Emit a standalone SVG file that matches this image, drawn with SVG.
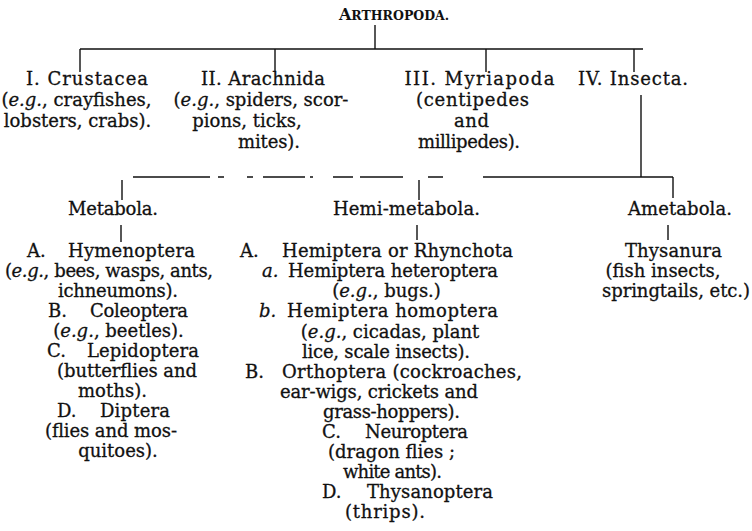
<svg xmlns="http://www.w3.org/2000/svg" width="752" height="531" viewBox="0 0 752 531">
<style>
text{font-family:"DejaVu Serif","Liberation Serif",serif;font-size:18px;fill:#111;stroke:#111;stroke-width:0.3;}
.c{text-anchor:middle;}
.i{font-style:italic;}
.t{font-weight:bold;stroke-width:0;}
.ln{stroke:#111;stroke-width:1.4;fill:none;}
</style>
<rect width="752" height="531" fill="#fff"/>
<g id="connectors">
<path class="ln" d="M375 25V49M80 49H643M80 49V72M275 49V72M486 49V72M634 49V72"/>
<path class="ln" d="M641 95V177"/>
<path class="ln" d="M133 177H210M218 177H224M247 177H253M263 177H305M310 177H313M333 177H353M360 177H403M428 177H443M483 177H673M673 177V198"/>
<path class="ln" d="M122 180V200M419 180V200"/>
<path class="ln" d="M121 225V242M417 225V240M668 225V240"/>
</g>
<g id="arthropoda"><text class="c t" x="394" y="20"><tspan font-size="16">A</tspan><tspan font-size="12.5">RTHROPODA.</tspan></text></g>
<g id="crustacea">
<text class="c" x="87" y="85" textLength="122" lengthAdjust="spacing">I. Crustacea</text>
<text class="c" x="76.5" y="106">(<tspan class="i">e.g.</tspan>, crayfishes,</text>
<text class="c" x="77.5" y="127">lobsters, crabs).</text>
</g>
<g id="arachnida">
<text class="c" x="263" y="85" textLength="124" lengthAdjust="spacing">II. Arachnida</text>
<text class="c" x="261" y="106">(<tspan class="i">e.g.</tspan>, spiders, scor-</text>
<text class="c" x="247" y="127">pions, ticks,</text>
<text class="c" x="269" y="148" textLength="62" lengthAdjust="spacing">mites).</text>
</g>
<g id="myriapoda">
<text class="c" x="479.5" y="85" textLength="150" lengthAdjust="spacing">III. Myriapoda</text>
<text class="c" x="472.5" y="106" textLength="113" lengthAdjust="spacing">(centipedes</text>
<text class="c" x="471.5" y="127" textLength="35" lengthAdjust="spacing">and</text>
<text class="c" x="469" y="148" textLength="102" lengthAdjust="spacing">millipedes).</text>
</g>
<g id="insecta">
<text class="c" x="633" y="85" textLength="110" lengthAdjust="spacing">IV. Insecta.</text>
</g>
<g id="metabola">
<text class="c" x="113" y="215" textLength="90" lengthAdjust="spacing">Metabola.</text>
<text x="27" y="257">A.</text><text class="c" x="131.5" y="257" textLength="127" lengthAdjust="spacing">Hymenoptera</text>
<text class="c" x="109" y="277" textLength="208" lengthAdjust="spacing">(<tspan class="i">e.g.</tspan>, bees, wasps, ants,</text>
<text class="c" x="118" y="297" textLength="120" lengthAdjust="spacing">ichneumons).</text>
<text x="48" y="317">B.</text><text class="c" x="139" y="317" textLength="98" lengthAdjust="spacing">Coleoptera</text>
<text class="c" x="118.5" y="337">(<tspan class="i">e.g.</tspan>, beetles).</text>
<text x="47" y="357">C.</text><text class="c" x="143" y="357" textLength="112" lengthAdjust="spacing">Lepidoptera</text>
<text class="c" x="127" y="377" textLength="140" lengthAdjust="spacing">(butterflies and</text>
<text class="c" x="112.5" y="397" textLength="69" lengthAdjust="spacing">moths).</text>
<text x="57" y="417">D.</text><text class="c" x="135" y="417" textLength="70" lengthAdjust="spacing">Diptera</text>
<text class="c" x="111" y="437" textLength="132" lengthAdjust="spacing">(flies and mos-</text>
<text class="c" x="118" y="457">quitoes).</text>
</g>
<g id="hemimetabola">
<text class="c" x="406.5" y="215" textLength="147" lengthAdjust="spacing">Hemi-metabola.</text>
<text x="240" y="257">A.</text><text class="c" x="397.5" y="257" textLength="231" lengthAdjust="spacing">Hemiptera or Rhynchota</text>
<text class="i" x="262" y="277">a.</text><text class="c" x="393" y="277" textLength="210" lengthAdjust="spacing">Hemiptera heteroptera</text>
<text class="c" x="386.5" y="297">(<tspan class="i">e.g.</tspan>, bugs.)</text>
<text class="i" x="259" y="317">b.</text><text class="c" x="392.5" y="317" textLength="211" lengthAdjust="spacing">Hemiptera homoptera</text>
<text class="c" x="390" y="338">(<tspan class="i">e.g.</tspan>, cicadas, plant</text>
<text class="c" x="386" y="358" textLength="168" lengthAdjust="spacing">lice, scale insects).</text>
<text x="245" y="378">B.</text><text class="c" x="402" y="378" textLength="240" lengthAdjust="spacing">Orthoptera (cockroaches,</text>
<text class="c" x="379" y="398" textLength="198" lengthAdjust="spacing">ear-wigs, crickets and</text>
<text class="c" x="391.5" y="418" textLength="137" lengthAdjust="spacing">grass-hoppers).</text>
<text x="322" y="438">C.</text><text class="c" x="416.5" y="438" textLength="103" lengthAdjust="spacing">Neuroptera</text>
<text class="c" x="391.5" y="458" textLength="127" lengthAdjust="spacing">(dragon flies ;</text>
<text class="c" x="392.5" y="478" textLength="99" lengthAdjust="spacing">white ants).</text>
<text x="322" y="498">D.</text><text class="c" x="430" y="498" textLength="126" lengthAdjust="spacing">Thysanoptera</text>
<text class="c" x="385" y="518" textLength="80" lengthAdjust="spacing">(thrips).</text>
</g>
<g id="ametabola">
<text class="c" x="680" y="215" textLength="104" lengthAdjust="spacing">Ametabola.</text>
<text class="c" x="673.5" y="257" textLength="97" lengthAdjust="spacing">Thysanura</text>
<text class="c" x="663" y="277">(fish insects,</text>
<text class="c" x="676" y="297" textLength="148" lengthAdjust="spacing">springtails, etc.)</text>
</g>
</svg>
